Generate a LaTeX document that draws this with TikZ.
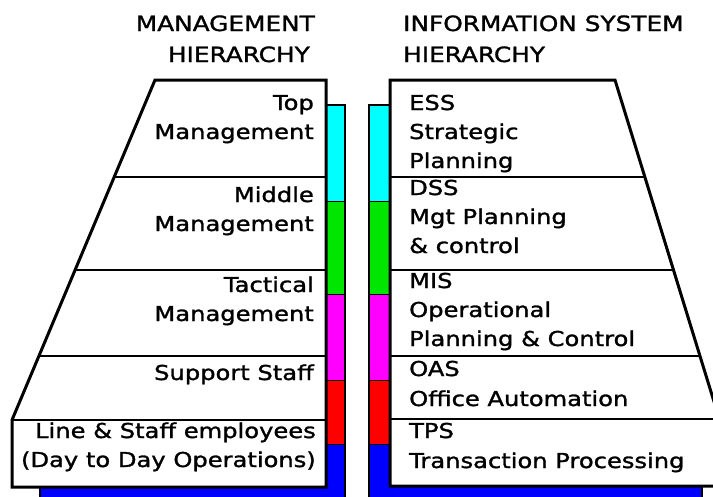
\documentclass[tikz,border=0pt]{standalone}
\usepackage{fontspec}
\setmainfont[FakeStretch=1.18, FakeBold=1.4]{DejaVu Sans}
\usepackage{tikz}
\usetikzlibrary{positioning}
\definecolor{barcyan}{RGB}{0,255,255}
\definecolor{bargreen}{RGB}{0,230,0}
\definecolor{barmagenta}{RGB}{255,0,255}
\definecolor{barred}{RGB}{255,0,0}
\definecolor{barblue}{RGB}{0,0,255}
\tikzset{lbl/.style = {inner sep=0pt, font=\fontsize{20.5}{24}\selectfont},
         ttl/.style = {inner sep=0pt, font=\fontsize{21}{24}\selectfont},
         outline/.style = {line width=3pt, line join=miter},
         divider/.style = {line width=1.4pt},
         barline/.style = {line width=2pt},
         seam/.style = {line width=0.8pt}}

\begin{document}
\begin{tikzpicture}[x=1pt, y=-1pt]
    \useasboundingbox (0, 0) rectangle (713, 496);
    \clip (0, 0) rectangle (713, 496);
    % colour bars and their shadow
    \fill [barblue] (326, 444) rectangle (345, 500);
    \fill [barblue] (40, 470) rectangle (345, 500);
    \fill [barcyan] (326, 105) rectangle (345, 201);
    \fill [bargreen] (326, 201) rectangle (345, 294);
    \fill [barmagenta] (326, 294) rectangle (345, 380);
    \fill [barred] (326, 380) rectangle (345, 444);
    \fill [barblue] (369, 444) rectangle (390, 500);
    \fill [barblue] (369, 470) rectangle (702, 500);
    \fill [barcyan] (369, 105) rectangle (390, 201);
    \fill [bargreen] (369, 201) rectangle (390, 294);
    \fill [barmagenta] (369, 294) rectangle (390, 380);
    \fill [barred] (369, 380) rectangle (390, 444);
    \foreach \y in {201, 294, 380, 444} {
      \draw [seam] (326, \y) -- (345, \y);
      \draw [seam] (369, \y) -- (390, \y);
    }
    \draw [barline] (326, 105) -- (345, 105) -- (345, 500);
    \draw [barline] (40, 480) -- (40, 500);
    \draw [barline] (390, 105) -- (369, 105) -- (369, 500);
    \draw [barline] (702, 480) -- (702, 500);
    % management side
    \fill [white] (155, 80) -- (326, 80) -- (326, 487) -- (12, 487) -- (12, 420) -- cycle;
    \draw [divider] (114.2, 177) -- (326, 177);
    \draw [divider] (75.1, 270) -- (326, 270);
    \draw [divider] (38.9, 356) -- (326, 356);
    \draw [divider] (12, 420) -- (326, 420);
    \draw [outline] (155, 80) -- (326, 80) -- (326, 487) -- (12, 487) -- (12, 420) -- cycle;
    % information system side
    \fill [white] (390, 80) -- (615, 80) -- (740, 486) -- (390, 486) -- cycle;
    \draw [divider] (390, 177) -- (645, 177);
    \draw [divider] (390, 270) -- (673.6, 270);
    \draw [divider] (390, 356) -- (700, 356);
    \draw [divider] (390, 419) -- (720, 419);
    \draw [outline] (740, 486) -- (390, 486) -- (390, 80) -- (615, 80) -- (740, 486);
    % titles
    \node [ttl, anchor=base east] (mgt) at (315, 31) {MANAGEMENT};
    \node [ttl, anchor=base east] (mgth) at (310, 62) {HIERARCHY};
    \node [ttl, anchor=base west] (info) at (403, 31) {INFORMATION SYSTEM};
    \node [ttl, anchor=base west] (infoh) at (403, 62) {HIERARCHY};
    % management levels
    \node [lbl, anchor=base east] (top1) at (314, 110) {Top};
    \node [lbl, anchor=base east] (top2) at (314, 139) {Management};
    \node [lbl, anchor=base east] (mid1) at (314, 202) {Middle};
    \node [lbl, anchor=base east] (mid2) at (314, 231) {Management};
    \node [lbl, anchor=base east] (tac1) at (314, 292) {Tactical};
    \node [lbl, anchor=base east] (tac2) at (314, 321) {Management};
    \node [lbl, anchor=base east] (sup) at (314, 380) {Support Staff};
    \node [lbl, anchor=base east] (line1) at (316, 438) {Line \& Staff employees};
    \node [lbl, anchor=base east] (line2) at (316, 467) {(Day to Day Operations)};
    % system levels
    \node [lbl, anchor=base west] (ess1) at (409, 110) {ESS};
    \node [lbl, anchor=base west] (ess2) at (409, 139) {Strategic};
    \node [lbl, anchor=base west] (ess3) at (409, 168) {Planning};
    \node [lbl, anchor=base west] (dss1) at (409, 195) {DSS};
    \node [lbl, anchor=base west] (dss2) at (409, 224) {Mgt Planning};
    \node [lbl, anchor=base west] (dss3) at (409, 253) {\& control};
    \node [lbl, anchor=base west] (mis1) at (409, 288) {MIS};
    \node [lbl, anchor=base west] (mis2) at (409, 317) {Operational};
    \node [lbl, anchor=base west] (mis3) at (409, 346) {Planning \& Control};
    \node [lbl, anchor=base west] (oas1) at (409, 376) {OAS};
    \node [lbl, anchor=base west] (oas2) at (409, 406) {Office Automation};
    \node [lbl, anchor=base west] (tps1) at (409, 438) {TPS};
    \node [lbl, anchor=base west] (tps2) at (409, 468) {Transaction Processing};
  \end{tikzpicture}
\end{document}
